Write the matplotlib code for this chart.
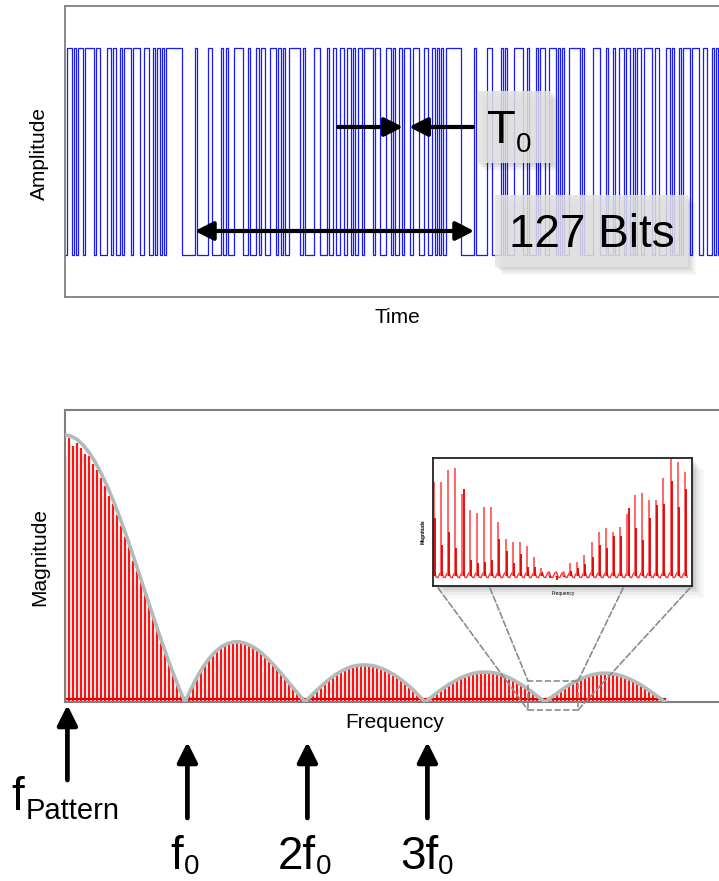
import numpy as np
import matplotlib
matplotlib.use("Agg")
import matplotlib.pyplot as plt
from matplotlib.patches import Rectangle, ConnectionPatch

plt.rcParams['font.family'] = ['Liberation Sans', 'DejaVu Sans']

W, H = 719, 881

# ---------------- data ----------------
# one period of the PRBS7 test pattern (127 bits)
prbs7_pattern = ("1111111" "000000" "1" "00000" "11" "0000" "1" "0" "1" "000" "1111" "00" "1"
                 "000" "1" "0" "11" "00" "111" "0" "1" "0" "1" "00" "11111" "0" "1" "0000" "111"
                 "000" "1" "00" "1" "00" "11" "0" "11" "0" "1" "0" "11" "0" "1111" "0" "11" "000"
                 "11" "0" "1" "00" "1" "0" "111" "0" "111" "00" "11" "00" "1" "0" "1" "0" "1" "0")
pattern_start = 81      # pattern bit shown at the left edge
bits_shown = 299        # bits visible in the time window

# spectral line magnitudes (% of the largest envelope value), 30 lines per lobe
lobe1_lines = [92, 99, 96, 97, 95, 93, 92, 89, 87, 84, 81, 77, 74, 70, 66, 62, 58, 53, 49, 45,
               40, 36, 31, 27, 22, 18, 14, 10, 6, 3]
lobe2_lines = [0, 3.3, 6.0, 9.3, 11.5, 14.1, 15.6, 18.0, 19.0, 20.6, 21.0, 22.2, 21.8, 22.6, 22.0,
               22.0, 20.9, 20.7, 19.2, 18.5, 16.8, 15.7, 13.8, 12.6, 10.5, 9.0, 7.0, 5.4, 3.4, 1.8]
lobe3_lines = [0, 1.5, 2.8, 4.3, 5.4, 6.9, 7.9, 9.2, 10.0, 11.1, 11.6, 12.6, 12.8, 13.5, 13.5,
               13.9, 13.5, 13.5, 12.8, 12.5, 11.5, 11.0, 9.9, 9.1, 7.8, 6.8, 5.4, 4.2, 2.7, 1.4]
lobe4_lines = [0, 1.2, 2.2, 3.5, 4.5, 5.6, 6.4, 7.5, 8.1, 9.1, 9.5, 10.2, 10.4, 11.0, 10.8,
               11.2, 10.8, 11.0, 10.4, 10.2, 9.5, 9.1, 8.1, 7.5, 6.4, 5.6, 4.5, 3.5, 2.2, 1.2]
lobe5_lines = [0, 1.1, 2.1, 3.3, 4.3, 5.4, 6.2, 7.2, 7.8, 8.7, 9.2, 9.9, 10.0, 10.6, 10.4,
               10.8, 10.4, 10.6, 10.0, 9.9, 9.2, 8.7, 7.8, 7.2, 6.2, 5.4, 4.3, 3.3, 2.1, 1.1]
spectrum_lobes = [lobe1_lines, lobe2_lines, lobe3_lines, lobe4_lines, lobe5_lines]

# envelope read at 21 points per lobe
env_lobe1 = [100, 99.6, 98.4, 96.3, 93.5, 90.0, 85.8, 81.0, 75.7, 69.9, 63.7, 57.2, 50.5, 43.6,
             36.8, 30.0, 23.4, 17.0, 10.9, 5.2, 0]
env_lobe2 = [0, 4.9, 9.3, 13.1, 16.2, 18.7, 20.6, 21.8, 22.5, 22.6, 22.0, 21.1, 19.7, 17.9,
             15.7, 13.4, 10.8, 8.1, 5.4, 2.7, 0]
env_lobe3 = [0, 2.3, 4.5, 6.5, 8.4, 10.1, 11.5, 12.6, 13.4, 13.8, 13.9, 13.7, 13.2, 12.4, 11.3,
             10.0, 8.4, 6.6, 4.6, 2.3, 0]
env_lobe4 = [0, 1.7, 3.5, 5.1, 6.6, 7.9, 9.1, 10.0, 10.7, 11.1, 11.2, 11.1, 10.7, 10.0, 9.1,
             7.9, 6.6, 5.1, 3.5, 1.7, 0]
env_lobe5 = [0, 1.7, 3.3, 4.9, 6.4, 7.6, 8.7, 9.6, 10.3, 10.7, 10.8, 10.7, 10.3, 9.6, 8.7,
             7.6, 6.4, 4.9, 3.3, 1.7, 0]
envelope_lobes = [env_lobe1, env_lobe2, env_lobe3, env_lobe4, env_lobe5]

# zoomed inset: tall and short spike heights (fraction of inset height)
inset_tall = [.81, .81, .91, .92, .72, .59, .57, .62, .62, .50, .37, .34, .34, .31, .23, .14,
              .105, .07, .11, .18, .19, .24, .34, .42, .45, .42, .46, .56, .71, .73, .67, .67,
              .84, 1.0, .97, .89]
inset_short = [.53, .32, .42, .30, .76, .20, .18, .19, .20, .37, .27, .18, .25, .15, .15, .10,
               .06, .05, .07, .12, .14, .17, .23, .32, .30, .39, .39, .61, .45, .36, .53, .63,
               .64, .82, .62, .76]

arrow_labels = ["0", "0", "0"]
harmonic_prefix = ["f", "2f", "3f"]

# ---------------- helpers ----------------
def P(x, y):
    return (x / W, 1 - y / H)

fig = plt.figure(figsize=(W / 100, H / 100), dpi=100)
fig.patch.set_facecolor('white')

def style_axes(ax, color='#7f7f7f', lw=1.3):
    ax.set_xticks([])
    ax.set_yticks([])
    for s in ax.spines.values():
        s.set_color(color)
        s.set_linewidth(lw)
    ax.spines['right'].set_visible(False)

# ---------------- top panel: bit pattern ----------------
px_per_bit = 2.2
ax1 = fig.add_axes([65 / W, 1 - 297 / H, (722 - 65) / W, (297 - 6) / H])
ax1.set_zorder(1)
style_axes(ax1)
ax1.set_xlim(0, (722 - 65) / px_per_bit)
ax1.set_ylim(-0.203, 1.203)

bits = [int(prbs7_pattern[(pattern_start + i) % len(prbs7_pattern)]) for i in range(bits_shown)]
xs = np.arange(bits_shown + 1)
ys = bits + [bits[-1]]
ax1.step(xs, ys, where='post', color='#1a1aff', lw=0.9)

arrow_kw = dict(arrowstyle='-|>,head_length=0.55,head_width=0.28', mutation_scale=20,
                color='black', lw=3.0, shrinkA=0, shrinkB=0)
# T0 arrows (bit positions), y in figure pixels
ax1.annotate('', xy=(153.6, H - 127), xytext=(124.1, H - 127),
             xycoords=('data', 'figure pixels'), textcoords=('data', 'figure pixels'),
             arrowprops=arrow_kw, annotation_clip=False)
ax1.annotate('', xy=(156.4, H - 127), xytext=(185.5, H - 127),
             xycoords=('data', 'figure pixels'), textcoords=('data', 'figure pixels'),
             arrowprops=arrow_kw, annotation_clip=False)
# 127-bit span
dbl_kw = dict(arrow_kw)
dbl_kw['arrowstyle'] = '<|-|>,head_length=0.55,head_width=0.28'
ax1.annotate('', xy=(59 + 127, H - 231), xytext=(59, H - 231),
             xycoords=('data', 'figure pixels'), textcoords=('data', 'figure pixels'),
             arrowprops=dbl_kw, annotation_clip=False)

def label_box(x0, y0, x1, y1):
    for off, a in [(2, 0.05), (4, 0.05), (6, 0.04), (8, 0.03)]:
        fig.add_artist(Rectangle(P(x0 + off, y1 + off), (x1 - x0) / W, (y1 - y0) / H,
                                 transform=fig.transFigure, fc='black', ec='none',
                                 alpha=a, zorder=4))
    fig.add_artist(Rectangle(P(x0, y1), (x1 - x0) / W, (y1 - y0) / H,
                             transform=fig.transFigure, fc='#e3e3e3', ec='none',
                             alpha=0.86, zorder=5))

label_box(477, 91, 551, 163)
label_box(495, 195, 688, 267)
fig.text(*P(487, 143), "T", fontsize=34, ha='left', va='baseline', zorder=6)
fig.text(*P(516, 152), "0", fontsize=20, ha='left', va='baseline', zorder=6)
fig.text(*P(509, 247), "127 Bits", fontsize=33, ha='left', va='baseline', zorder=6)

fig.text(*P(39, 153), "Amplitude", fontsize=15, rotation=90, ha='center', va='center')
fig.text(*P(397, 318), "Time", fontsize=15, ha='center', va='center')

# ---------------- bottom panel: spectrum ----------------
px_per_f0 = 120
ax2 = fig.add_axes([65 / W, 1 - 702 / H, (722 - 65) / W, (702 - 410) / H])
ax2.set_zorder(1)
style_axes(ax2, lw=1.5)
ax2.set_xlim(0, (722 - 65) / px_per_f0)
ax2.set_ylim(0, 109.4)

for n, lobe in enumerate(spectrum_lobes):
    pos = n + np.arange(len(lobe)) / len(lobe)
    ax2.vlines(pos, 0, lobe, color='#ff1414', lw=1.6, zorder=2)
ax2.plot([0, len(spectrum_lobes)], [1.0, 1.0], color='#e00000', lw=1.6, zorder=2)
for n, env in enumerate(envelope_lobes):
    t = n + np.linspace(0, 1, len(env))
    ax2.plot(t, env, color='#b2baba', lw=2.6, zorder=3, solid_capstyle='round')

fig.text(*P(40, 557), "Magnitude", fontsize=15, rotation=90, ha='center', va='center')
fig.text(*P(395, 722), "Frequency", fontsize=15, ha='center', va='center', zorder=6)

# zoom rectangle on the 4th null
zx0, zx1, zy0, zy1 = 3.858, 4.275, -3.0, 7.9
ax2.add_patch(Rectangle((zx0, zy0), zx1 - zx0, zy1 - zy0, fill=False, ec='#8c8c8c',
                        ls='--', lw=1.2, clip_on=False, zorder=4))

# inset
ix0, iy0, ix1, iy1 = 433, 458, 692, 586
for off, a in [(2, 0.07), (4, 0.06), (6, 0.05), (9, 0.04), (12, 0.03)]:
    fig.add_artist(Rectangle(P(ix0 + off, iy1 + off), (ix1 - ix0) / W, (iy1 - iy0) / H,
                             transform=fig.transFigure, fc='black', ec='none',
                             alpha=a, zorder=2))
ax3 = fig.add_axes([ix0 / W, 1 - iy1 / H, (ix1 - ix0) / W, (iy1 - iy0) / H])
ax3.set_zorder(3)
ax3.set_xticks([])
ax3.set_yticks([])
for s in ax3.spines.values():
    s.set_color('#222222')
    s.set_linewidth(1.3)
ax3.set_xlim(0, 1)
ax3.set_ylim(0, 1)
n_in = len(inset_tall)
ipos = 0.003 + np.arange(n_in) * 0.0277
base_x, base_y = [], []
for x, ht, hs in zip(ipos, inset_tall, inset_short):
    base_x += [x - 0.012, x - 0.004, x + 0.003, x + 0.009]
    base_y += [0.065, 0.10, 0.11, 0.07]
ax3.plot(base_x, base_y, color='#ff3030', lw=1.0)
ax3.vlines(ipos, 0.08, inset_tall, color='#ff5a5a', lw=1.3)
ax3.vlines(ipos + 0.004, 0.08, inset_short, color='#e00000', lw=1.3)
fig.text(*P(423, 532), "Magnitude", fontsize=3.5, rotation=90, ha='center', va='center',
         fontweight='bold', zorder=6)
fig.text(*P(563, 593), "Frequency", fontsize=3.5, ha='center', va='center', zorder=6)

for (ax_x, bx, by) in [(0.02, zx0, zy0), (0.22, zx0, zy1), (0.734, zx1, zy1), (0.992, zx1, zy0)]:
    cp = ConnectionPatch(xyA=(ax_x, -0.016), coordsA=ax3.transAxes,
                         xyB=(bx, by), coordsB=ax2.transData,
                         color='#8c8c8c', ls='--', lw=1.2, zorder=5)
    fig.add_artist(cp)

# ---------------- frequency markers ----------------
up_kw = dict(arrowstyle='-|>,head_length=0.6,head_width=0.3', mutation_scale=20,
             color='black', lw=3.4, shrinkA=0, shrinkB=0)
ax2.annotate('', xy=(0.02, H - 705), xytext=(0.02, H - 780),
             xycoords=('data', 'figure pixels'), textcoords=('data', 'figure pixels'),
             arrowprops=up_kw, annotation_clip=False)
for k in range(1, 4):
    ax2.annotate('', xy=(k + 0.02, H - 742), xytext=(k + 0.02, H - 818),
                 xycoords=('data', 'figure pixels'), textcoords=('data', 'figure pixels'),
                 arrowprops=up_kw, annotation_clip=False)

fig.text(*P(11, 810), "f", fontsize=33, ha='left', va='baseline')
fig.text(*P(26, 819), "Pattern", fontsize=21, ha='left', va='baseline')
main_x = [170, 278, 400]
sub_x = [184, 316, 438]
for pre, sub, mx, sx in zip(harmonic_prefix, arrow_labels, main_x, sub_x):
    fig.text(*P(mx, 869), pre, fontsize=33, ha='left', va='baseline')
    fig.text(*P(sx, 874), sub, fontsize=20, ha='left', va='baseline')

fig.savefig("out.png", dpi=100)
